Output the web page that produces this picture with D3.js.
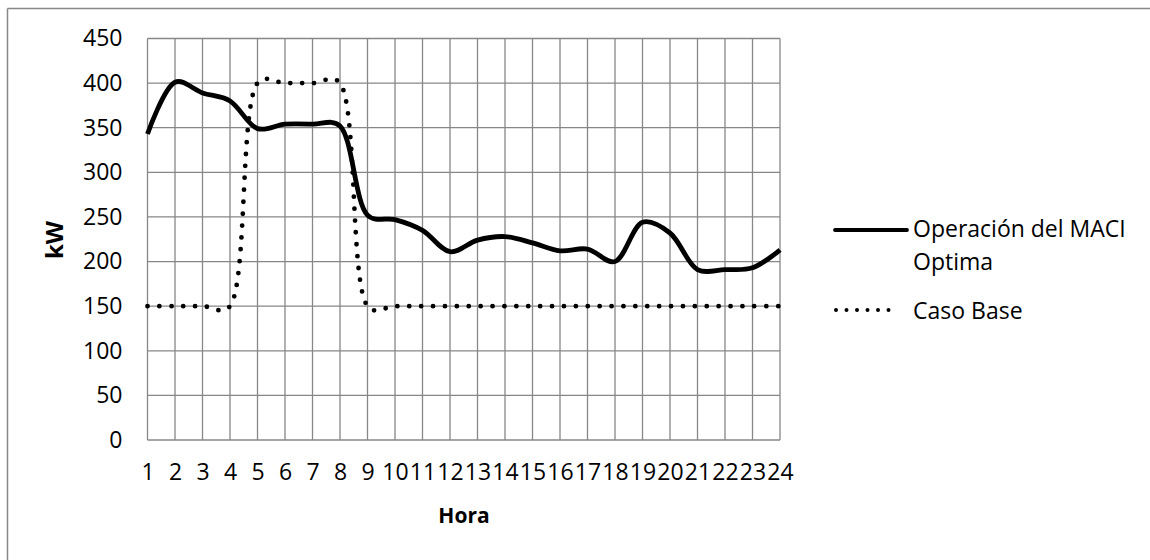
<!DOCTYPE html>
<html>
<head>
<meta charset="utf-8">
<script src="https://cdn.jsdelivr.net/npm/d3@7"></script>
<style>
  html, body { margin: 0; padding: 0; background: #fff; }
  svg { display: block; }
  text { font-family: "Open Sans", "Liberation Sans", sans-serif; fill: #000; }
</style>
</head>
<body>
<svg id="chart" width="1150" height="560"></svg>
<script>
// Hours of the day (category axis)
const hours = d3.range(1, 25);
const hourLabels = hours.map(String);

// Optimal CHP (MACI) operation, kW per hour
const optima = [343, 401, 389, 380, 349, 354, 354, 352, 252, 247, 235, 211,
                224, 228, 221, 212, 214, 200, 244, 232, 191, 191, 193, 213];

// Base case, kW per hour
const casoBase = [150, 150, 150, 150, 400, 400, 400, 400, 150, 150, 150, 150,
                  150, 150, 150, 150, 150, 150, 150, 150, 150, 150, 150, 150];

// Value axis ticks
const yTicks = [0, 50, 100, 150, 200, 250, 300, 350, 400, 450];

const seriesNames = ["Operación del MACI", "Optima", "Caso Base"];

const svg = d3.select("#chart");
const grid = "#878787";

// Outer chart frame (left and top edges show)
svg.append("line").attr("x1", 7.5).attr("x2", 7.5).attr("y1", 8.5).attr("y2", 560)
  .attr("stroke", grid).attr("stroke-width", 1.5);
svg.append("line").attr("x1", 7.5).attr("x2", 1150).attr("y1", 8.5).attr("y2", 8.5)
  .attr("stroke", grid).attr("stroke-width", 1.5);

const x = d3.scalePoint().domain(hours).range([147.5, 780]);
const y = d3.scaleLinear().domain([0, 450]).range([440, 38.5]);

// Horizontal gridlines
svg.append("g").selectAll("line").data(yTicks).join("line")
  .attr("x1", x(1)).attr("x2", x(24))
  .attr("y1", d => y(d)).attr("y2", d => y(d))
  .attr("stroke", grid).attr("stroke-width", 1.3);

// Vertical gridlines, one per hour
svg.append("g").selectAll("line").data(hours).join("line")
  .attr("x1", d => x(d)).attr("x2", d => x(d))
  .attr("y1", y(0)).attr("y2", y(450))
  .attr("stroke", grid).attr("stroke-width", 1.3);

// Value axis labels
const yAxis = d3.axisLeft(y).tickValues(yTicks).tickSize(0).tickPadding(25);
const gy = svg.append("g").attr("transform", `translate(${x(1)},0)`).call(yAxis);
gy.select(".domain").remove();
gy.selectAll("text").attr("font-size", 23).attr("font-family", null);

// Hour axis labels
const xAxis = d3.axisBottom(x).tickFormat((d, i) => hourLabels[i]).tickSize(0).tickPadding(24);
const gx = svg.append("g").attr("transform", `translate(0,${y(0)})`).call(xAxis);
gx.select(".domain").remove();
gx.selectAll("text").attr("font-size", 23).attr("font-family", null);

// Axis titles
svg.append("text").attr("x", 464).attr("y", 523).attr("text-anchor", "middle")
  .attr("font-size", 21).attr("font-weight", "bold").text("Hora");
svg.append("text").attr("transform", "translate(63,240) rotate(-90)")
  .attr("text-anchor", "middle").attr("font-size", 24).attr("font-weight", "bold").text("kW");

const line = d3.line()
  .x((d, i) => x(hours[i]))
  .y(d => y(d))
  .curve(d3.curveCatmullRom.alpha(0.4));

// Base case: round dotted line
svg.append("path").datum(casoBase).attr("d", line)
  .attr("fill", "none").attr("stroke", "#000").attr("stroke-width", 4.8)
  .attr("stroke-linecap", "round").attr("stroke-dasharray", "0 11.9");

// Optimal operation: thick solid line
svg.append("path").datum(optima).attr("d", line)
  .attr("fill", "none").attr("stroke", "#000").attr("stroke-width", 4.8)
  .attr("stroke-linejoin", "round");

// Legend
const lg = svg.append("g");
lg.append("line").attr("x1", 835).attr("x2", 907).attr("y1", 230).attr("y2", 230)
  .attr("stroke", "#000").attr("stroke-width", 3.8).attr("stroke-linecap", "round");
lg.append("text").attr("x", 913).attr("y", 237).attr("font-size", 23).text(seriesNames[0]);
lg.append("text").attr("x", 913).attr("y", 270).attr("font-size", 23).text(seriesNames[1]);
lg.append("line").attr("x1", 836).attr("x2", 889).attr("y1", 310).attr("y2", 310)
  .attr("stroke", "#000").attr("stroke-width", 4).attr("stroke-linecap", "round")
  .attr("stroke-dasharray", "0 10.5");
lg.append("text").attr("x", 913).attr("y", 319).attr("font-size", 23).text(seriesNames[2]);
</script>
</body>
</html>
